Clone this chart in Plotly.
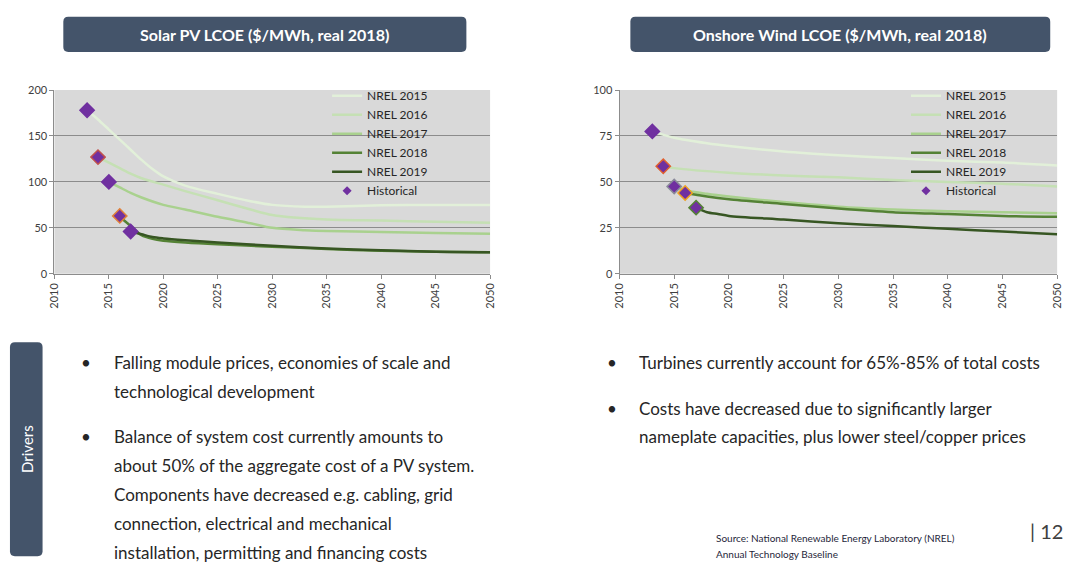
import plotly.graph_objects as go

W, H = 1075, 569

# ---------------- data ----------------
series_names = ["NREL 2015", "NREL 2016", "NREL 2017", "NREL 2018", "NREL 2019"]
series_colors = ["#e2f0d9", "#c5e0b4", "#a9d18e", "#548235", "#375623"]

hist_years = [2013, 2014, 2015, 2016, 2017]
solar_hist = [178, 127, 100, 63, 46]
wind_hist = [77.5, 58.5, 47.5, 44, 36]
solar_hist_edge = ["#7030a0", "#c0504d", "#7030a0", "#e0803a", "#7030a0"]
wind_hist_edge = ["#7030a0", "#e06030", "#8a8a9a", "#f0a020", "#548235"]

solar_years = [
    [2013, 2014, 2015, 2016, 2017, 2018, 2019, 2020, 2022, 2025, 2028, 2030, 2033, 2035, 2040, 2045, 2050],
    [2014, 2015, 2016, 2017, 2018, 2020, 2022, 2025, 2028, 2030, 2035, 2040, 2045, 2050],
    [2015, 2016, 2017, 2018, 2020, 2022, 2025, 2028, 2030, 2033, 2035, 2040, 2045, 2050],
    [2016, 2017, 2018, 2019, 2020, 2022, 2025, 2030, 2035, 2040, 2045, 2050],
    [2017, 2018, 2019, 2020, 2022, 2025, 2030, 2035, 2040, 2045, 2050],
]
solar_values = [
    [178, 168, 157, 146, 135, 124, 114, 106, 96, 87, 79, 75, 73, 73, 74.5, 75, 75],
    [127, 121, 115, 109, 104, 97, 90, 80, 70, 64, 59, 58, 56.5, 55.5],
    [100, 94, 88, 83, 75, 70, 62, 55, 50, 47.5, 46.5, 45.5, 44.5, 43.5],
    [62, 52, 42, 38, 36, 34, 32, 29.5, 27, 25, 24, 23.5],
    [46, 43, 40, 38.5, 36.5, 34, 30.5, 27.5, 25.5, 24, 23.5],
]

wind_years = [
    [2013, 2015, 2018, 2020, 2025, 2030, 2035, 2040, 2045, 2050],
    [2014, 2015, 2020, 2025, 2030, 2035, 2040, 2045, 2050],
    [2015, 2016, 2018, 2020, 2025, 2030, 2035, 2040, 2045, 2050],
    [2016, 2017, 2018, 2020, 2025, 2030, 2035, 2040, 2045, 2050],
    [2017, 2018, 2019, 2020, 2025, 2030, 2035, 2040, 2045, 2050],
]
wind_values = [
    [77.5, 74, 71, 69.5, 66.5, 64.5, 63, 61.5, 60.5, 59],
    [58.5, 57.5, 55, 53.5, 52.5, 51, 50, 49, 47.5],
    [47.5, 45.5, 43.5, 42, 39, 36.5, 35, 34, 33.5, 33],
    [44, 43, 42, 40.5, 38, 35.5, 33.5, 32.5, 31.5, 31],
    [36, 33.5, 32.5, 31.5, 29.5, 27.5, 26, 24.5, 23, 21.5],
]

x_ticks = list(range(2010, 2051, 5))
solar_yticks = [0, 50, 100, 150, 200]
wind_yticks = [0, 25, 50, 75, 100]

titles = ["Solar PV LCOE ($/MWh, real 2018)", "Onshore Wind LCOE ($/MWh, real 2018)"]
left_bullets = [
    ["Falling module prices, economies of scale and", "technological development"],
    ["Balance of system cost currently amounts to",
     "about 50% of the aggregate cost of a PV system.",
     "Components have decreased e.g. cabling, grid",
     "connection, electrical and mechanical",
     "installation, permitting and financing costs"],
]
right_bullets = [
    ["Turbines currently account for 65%-85% of total costs"],
    ["Costs have decreased due to significantly larger",
     "nameplate capacities, plus lower steel/copper prices"],
]
source_lines = ["Source: National Renewable Energy Laboratory (NREL)", "Annual Technology Baseline"]
page_no = "| 12"

# ---------------- helpers ----------------
def px(x):
    return x / W

def py(y):
    return 1 - y / H

BOX = "#44546a"
TXT = "#262626"
BODY_FONT = "Lato, Open Sans, sans-serif"
TITLE_FONT = "Lato, sans-serif"

fig = go.Figure()

# ---------------- traces ----------------
def add_panel(years, values, hist, edges, xa, ya, leg):
    for i, (nm, col) in enumerate(zip(series_names, series_colors)):
        fig.add_trace(go.Scatter(x=years[i], y=values[i], mode="lines", name=nm,
                                 line=dict(color=col, width=2.5, shape="spline", smoothing=0.8),
                                 xaxis=xa, yaxis=ya, legend=leg))
    fig.add_trace(go.Scatter(x=hist_years, y=hist, mode="markers", name="Historical",
                             showlegend=False,
                             marker=dict(symbol="diamond", size=11, color="#7030a0",
                                         line=dict(color=edges, width=1.5)),
                             xaxis=xa, yaxis=ya))
    fig.add_trace(go.Scatter(x=[None], y=[None], mode="markers", name="Historical",
                             marker=dict(symbol="diamond", size=7, color="#7030a0"),
                             xaxis=xa, yaxis=ya, legend=leg))

add_panel(solar_years, solar_values, solar_hist, solar_hist_edge, "x", "y", "legend")
add_panel(wind_years, wind_values, wind_hist, wind_hist_edge, "x2", "y2", "legend2")

# ---------------- axes ----------------
GRID = "#8c8c8c"
tickfont = dict(family="Lato, sans-serif", size=11, color="#404040")
xcommon = dict(range=[2010, 2050], tickvals=x_ticks, tickangle=-90, showgrid=False,
               showline=True, linecolor=GRID, ticks="outside", ticklen=4, tickcolor=GRID,
               tickfont=tickfont, zeroline=False, fixedrange=True)
ycommon = dict(showgrid=True, gridcolor=GRID, gridwidth=1, showline=True, linecolor=GRID,
               ticks="outside", ticklen=4, tickcolor=GRID, tickfont=tickfont,
               zeroline=False, fixedrange=True)

ydom = [py(273), py(85)]
fig.update_layout(
    xaxis=dict(domain=[px(48), px(489)], anchor="y", **xcommon),
    yaxis=dict(domain=ydom, anchor="x", range=[0, 200], tickvals=solar_yticks, **ycommon),
    xaxis2=dict(domain=[px(620), px(1063)], anchor="y2", **xcommon),
    yaxis2=dict(domain=ydom, anchor="x2", range=[0, 100], tickvals=wind_yticks, **ycommon),
)

shapes = []
for xr, yr in [("x domain", "y domain"), ("x2 domain", "y2 domain")]:
    shapes.append(dict(type="rect", xref=xr, yref=yr, x0=0, x1=1, y0=0, y1=1,
                       fillcolor="#d9d9d9", line=dict(width=0), layer="below"))

def rounded_box(x0, y0, x1, y1, r, color):
    rx, ry = r / W, r / H
    X0, X1 = px(x0), px(x1)
    Y0, Y1 = py(y1), py(y0)
    path = (f"M {X0+rx},{Y0} L {X1-rx},{Y0} Q {X1},{Y0} {X1},{Y0+ry} "
            f"L {X1},{Y1-ry} Q {X1},{Y1} {X1-rx},{Y1} L {X0+rx},{Y1} "
            f"Q {X0},{Y1} {X0},{Y1-ry} L {X0},{Y0+ry} Q {X0},{Y0} {X0+rx},{Y0} Z")
    return dict(type="path", xref="paper", yref="paper", path=path,
                fillcolor=color, line=dict(width=0), layer="below")

shapes.append(rounded_box(57, 10, 465, 46, 5, BOX))
shapes.append(rounded_box(631, 10, 1056, 46, 5, BOX))
shapes.append(rounded_box(3, 343, 36, 562, 5, BOX))

# ---------------- annotations ----------------
ann = []
for t, cx in zip(titles, [261, 843]):
    ann.append(dict(x=px(cx), y=py(28), text="<b>" + t + "</b>", showarrow=False,
                    xref="paper", yref="paper",
                    font=dict(family=TITLE_FONT, size=16, color="white"),
                    xanchor="center", yanchor="middle"))
ann.append(dict(x=px(19.5), y=py(452), text="Drivers", textangle=-90, showarrow=False,
                xref="paper", yref="paper", font=dict(family=BODY_FONT, size=15, color="white"),
                xanchor="center", yanchor="middle"))

def bullet_block(groups, bx, tx, starts, lh, size):
    out = []
    for g, y0 in zip(groups, starts):
        out.append(dict(x=px(bx), y=py(y0), text="•", showarrow=False, xref="paper", yref="paper",
                        font=dict(family=BODY_FONT, size=size, color=TXT),
                        xanchor="center", yanchor="middle"))
        for k, line in enumerate(g):
            out.append(dict(x=px(tx), y=py(y0 + k * lh), text=line, showarrow=False,
                            xref="paper", yref="paper",
                            font=dict(family=BODY_FONT, size=size, color=TXT),
                            xanchor="left", yanchor="middle"))
    return out

ann += bullet_block(left_bullets, 80, 106, [364, 440], 29.5, 17)
ann += bullet_block(right_bullets, 612, 638, [364, 411], 28.5, 17)

for k, s in enumerate(source_lines):
    ann.append(dict(x=px(716), y=py(543 + k * 17), text=s, showarrow=False, xref="paper",
                    yref="paper", font=dict(family=BODY_FONT, size=10, color="#1f1f3a"),
                    xanchor="left", yanchor="middle"))
ann.append(dict(x=px(1034), y=py(536), text=page_no, showarrow=False, xref="paper", yref="paper",
                font=dict(family=BODY_FONT, size=20, color="#404040"),
                xanchor="left", yanchor="middle"))

leg_common = dict(bgcolor="rgba(0,0,0,0)", borderwidth=0, itemwidth=30,
                  font=dict(family="Lato, sans-serif", size=12, color="#262626"),
                  xanchor="left", yanchor="top", tracegroupgap=0, itemclick=False,
                  itemdoubleclick=False)

fig.update_layout(
    width=W, height=H, margin=dict(l=0, r=0, t=0, b=0),
    paper_bgcolor="white", plot_bgcolor="rgba(0,0,0,0)",
    shapes=shapes, annotations=ann, showlegend=True,
    legend=dict(x=px(324), y=py(76), **leg_common),
    legend2=dict(x=px(910), y=py(76), **leg_common),
)

page_fix = (
    "var d=document.documentElement,b=document.body;"
    "d.style.margin='0';d.style.overflow='hidden';d.style.height='569px';"
    "b.style.margin='0';b.style.padding='0';b.style.overflow='hidden';"
    "b.style.height='569px';b.style.lineHeight='0';"
    "var g=document.querySelector('.plotly-graph-div');"
    "if(g){var p=g.parentElement;p.style.height='569px';p.style.overflow='hidden';"
    "p.style.lineHeight='0';g.style.overflow='hidden';}"
)
fig.write_html("out.html", config={"displayModeBar": False}, post_script=page_fix)
